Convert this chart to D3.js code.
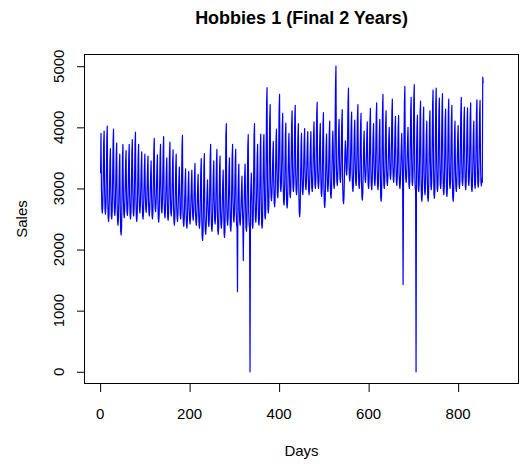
<!DOCTYPE html>
<html>
<head>
<meta charset="utf-8">
<script src="https://cdn.jsdelivr.net/npm/d3@7"></script>
<style>
  body { margin: 0; background: #fff; }
  text { font-family: "Liberation Sans", Arial, sans-serif; fill: #000; }
</style>
</head>
<body>
<div id="chart"></div>
<script>
// daily sales, first part (days 1 - 435)
const salesYear1 = [
  3250,3900,
  3000,2660,2600,2720,3200,3740,3940,
  3010,2640,2580,2700,3230,3820,4020,
  2820,2520,2460,2580,3000,3450,3650,
  2940,2560,2500,2620,3160,3770,3970,
  2910,2620,2560,2680,3090,3540,3740,
  2750,2460,2400,2520,2920,3360,3560,
  2700,2300,2240,2360,2910,3520,3720,
  2850,2580,2520,2640,3010,3420,3620,
  2910,2620,2560,2680,3080,3520,3720,
  2890,2560,2500,2620,3090,3600,3800,
  2960,2610,2550,2670,3170,3720,3920,
  2840,2520,2460,2580,3030,3520,3720,
  2900,2660,2600,2720,3050,3400,3600,
  2820,2560,2500,2620,2980,3360,3560,
  2890,2670,2610,2730,3020,3330,3530,
  2820,2610,2550,2670,2960,3250,3450,
  2900,2560,2500,2620,3090,3620,3820,
  2900,2680,2620,2740,3040,3350,3550,
  2830,2510,2450,2570,3020,3520,3720,
  2980,2660,2600,2720,3160,3650,3850,
  2810,2580,2520,2640,2960,3300,3500,
  2860,2540,2480,2600,3060,3560,3760,
  2870,2610,2550,2670,3040,3430,3630,
  2750,2460,2400,2520,2920,3360,3560,
  2730,2520,2460,2580,2860,3150,3350,
  2910,2560,2500,2620,3120,3670,3870,
  2660,2440,2380,2500,2800,3120,3320,
  2630,2410,2350,2470,2770,3080,3280,
  2680,2480,2420,2540,2820,3100,3300,
  2760,2540,2480,2600,2900,3210,3410,
  2650,2460,2400,2520,2770,3030,3230,
  2690,2410,2350,2470,2860,3290,3490,
  2580,2210,2150,2270,2790,3370,3570,
  2520,2310,2250,2370,2650,2940,3140,
  2780,2440,2380,2500,2980,3520,3720,
  2650,2360,2300,2420,2820,3250,3450,
  2790,2480,2420,2540,2970,3440,3640,
  2630,2310,2250,2370,2830,3330,3530,
  2640,2410,2350,2470,2780,3100,3300,
  2760,2260,2200,2320,3040,3860,4060,
  2730,2460,2400,2520,2900,3300,3500,
  2730,2360,2300,2420,2940,3520,3720,
  2810,2510,2450,2570,2990,3440,3640,
  2660,2410,2350,1310,2820,3200,3400,
  2640,2460,2400,2520,2760,3000,3200,
  2670,2410,1820,2470,2820,3200,3400,
  2780,2360,2300,2420,3010,3680,3880,
  2620,2410,2350,0,2750,3050,3250,
  2860,2410,2350,2470,3120,3860,4060,
  2830,2510,2450,2570,3020,3520,3720,
  2850,2460,2400,2520,3070,3690,3890,
  2810,2410,2350,2470,3040,3680,3880,
  3150,2560,2500,2620,3470,4400,4650,
  3130,2660,2600,2720,3400,4150,4370,
  3090,2860,2800,2920,3240,3570,3770,
  3080,2760,2700,2820,3270,3770,3970,
  3360,2910,2850,2970,3610,4300,4540,
  3330,3010,2950,3070,3530,4020,4230,
  3130,2790,2730,2850,3330,3870,4070,
  3050,2740,2680,2800,3230,3700,3900,
  3270,2910,2850,2970,3490,4060,4270
];

// daily sales, second part (days 436 - 856)
const salesYear2 = [
  3370,3010,2950,3070,3590,4150,4360,
  3250,2960,2900,3020,3420,3860,4060,
  2950,2600,2540,2660,3150,3700,3900,
  3220,2960,2900,3020,3390,3780,3980,
  3270,3040,2980,3100,3410,3730,3930,
  3210,2960,2900,3020,3360,3730,3930,
  3290,3010,2950,3070,3460,3880,4090,
  3420,3060,3000,3120,3630,4210,4410,
  3320,3060,3000,3120,3480,3860,4060,
  3280,2930,2870,2990,3490,4040,4240,
  3050,2750,2690,2810,3230,3690,3890,
  3300,3010,2950,3070,3470,3900,4100,
  3170,2900,2840,2960,3340,3740,3940,
  3600,3060,3000,3120,3900,4700,5000,
  3370,3110,3050,3170,3540,3930,4130,
  3460,3160,3100,3220,3640,4090,4290,
  3060,2810,2750,2870,3210,3580,3780,
  3640,3280,3220,3340,3860,4430,4640,
  3460,3180,3120,3240,3630,4050,4250,
  3300,3010,2950,3070,3480,3920,4120,
  3450,3110,3050,3170,3640,4170,4370,
  3370,3060,3000,3120,3550,4030,4230,
  3150,2870,2810,2930,3320,3740,3940,
  3400,3160,3100,3220,3540,3890,4090,
  3390,3060,3000,3120,3590,4110,4310,
  3300,3040,2980,3100,3470,3860,4060,
  3460,3110,3050,3170,3660,4200,4400,
  3330,3040,2980,3100,3500,3930,4130,
  3320,2850,2790,2910,3580,4300,4540,
  3380,3060,3000,3120,3570,4060,4270,
  3340,3110,3050,3170,3480,3800,4000,
  3540,3210,3150,3270,3740,4250,4460,
  3420,3160,3100,3220,3590,3980,4180,
  3390,3110,3050,3170,3560,3990,4190,
  3270,3060,3000,3120,3410,3700,3900,
  3500,3060,1430,3120,3750,4420,4670,
  3370,3160,3100,3220,3510,3800,4000,
  3450,3060,3000,3120,3670,4260,4490,
  3550,3110,3050,3170,3790,4480,4700,
  3320,3010,2950,0,3520,4000,4200,
  3390,3010,2950,3070,3620,4230,4430,
  3250,2850,2790,2910,3480,4120,4330,
  3260,2960,2900,3020,3440,3900,4100,
  3230,2850,2790,2910,3450,4060,4270,
  3470,3040,2980,3100,3710,4380,4610,
  3380,2900,2840,2960,3650,4400,4640,
  3410,3010,2950,3070,3640,4260,4480,
  3470,3060,3000,3120,3700,4320,4550,
  3320,2960,2900,3020,3530,4100,4300,
  3350,2930,2870,2990,3580,4230,4460,
  3410,3060,3000,3120,3610,4150,4360,
  3180,2850,2790,2910,3380,3900,4100,
  3270,3010,2950,3070,3430,3820,4030,
  3450,3060,3000,3120,3670,4260,4490,
  3430,3110,3050,3170,3620,4120,4330,
  3380,3040,2980,3100,3580,4110,4320,
  3460,3110,3050,3170,3660,4200,4400,
  3300,3010,2950,3070,3470,3900,4100,
  3430,3060,3000,3120,3650,4240,4450,
  3440,3080,3020,3140,3660,4230,4440,
  3420,3100,3040,3160,3100,4820,4720
];

const xTicks = [0, 200, 400, 600, 800];
const yTicks = [0, 1000, 2000, 3000, 4000, 5000];

const sales = salesYear1.concat(salesYear2);
const data = sales.map((v, i) => ({ day: i + 1, value: v }));

const width = 530, height = 464;
const plotLeft = 84, plotRight = 519, plotTop = 54, plotBottom = 384;

const x = d3.scaleLinear().domain([-36, 936]).range([plotLeft, plotRight]);
const y = d3.scaleLinear().domain([-200, 5200]).range([plotBottom, plotTop]);

const svg = d3.select("#chart")
  .append("svg")
  .attr("width", width)
  .attr("height", height)
  .style("background", "#fff");

// series
const line = d3.line()
  .x(d => x(d.day))
  .y(d => y(d.value));

svg.append("path")
  .datum(data)
  .attr("fill", "none")
  .attr("stroke", "#0000ff")
  .attr("stroke-width", 1.2)
  .attr("stroke-linejoin", "round")
  .attr("d", line);

// box
svg.append("rect")
  .attr("x", plotLeft + 0.5)
  .attr("y", plotTop + 0.5)
  .attr("width", plotRight - plotLeft - 1)
  .attr("height", plotBottom - plotTop - 1)
  .attr("fill", "none")
  .attr("stroke", "#000")
  .attr("stroke-width", 1);

// x axis
const xAxis = svg.append("g")
  .attr("transform", `translate(0, ${plotBottom})`)
  .call(d3.axisBottom(x).tickValues(xTicks).tickSize(8).tickPadding(0).tickFormat(""));
xAxis.select(".domain").remove();
xAxis.selectAll("line").attr("stroke", "#000");

svg.selectAll(".xlab")
  .data(xTicks)
  .enter()
  .append("text")
  .attr("x", d => x(d))
  .attr("y", 418.5)
  .attr("text-anchor", "middle")
  .attr("font-size", "15px")
  .text(d => d);

// y axis
const yAxis = svg.append("g")
  .attr("transform", `translate(${plotLeft}, 0)`)
  .call(d3.axisLeft(y).tickValues(yTicks).tickSize(7).tickPadding(0).tickFormat(""));
yAxis.select(".domain").remove();
yAxis.selectAll("line").attr("stroke", "#000");

svg.selectAll(".ylab")
  .data(yTicks)
  .enter()
  .append("text")
  .attr("transform", d => `translate(63.5, ${y(d)}) rotate(-90)`)
  .attr("text-anchor", "middle")
  .attr("font-size", "15px")
  .text(d => d);

// titles
svg.append("text")
  .attr("x", (plotLeft + plotRight) / 2)
  .attr("y", 24)
  .attr("text-anchor", "middle")
  .attr("font-size", "18px")
  .attr("font-weight", "bold")
  .text("Hobbies 1 (Final 2 Years)");

svg.append("text")
  .attr("x", (plotLeft + plotRight) / 2)
  .attr("y", 456)
  .attr("text-anchor", "middle")
  .attr("font-size", "15px")
  .text("Days");

svg.append("text")
  .attr("transform", `translate(27, ${(plotTop + plotBottom) / 2}) rotate(-90)`)
  .attr("text-anchor", "middle")
  .attr("font-size", "15px")
  .text("Sales");
</script>
</body>
</html>
